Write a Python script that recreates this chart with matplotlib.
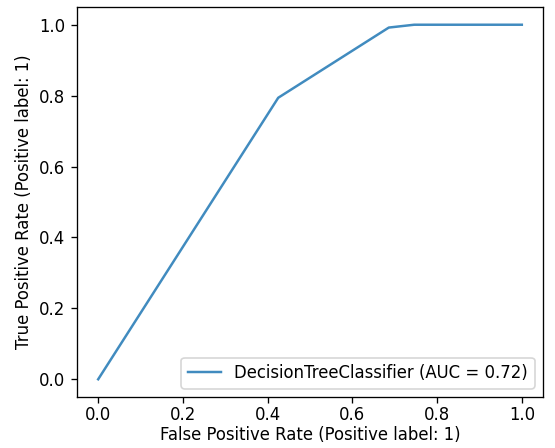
import matplotlib
matplotlib.use("Agg")
import matplotlib.pyplot as plt

fpr = [0.0, 0.425, 0.686, 0.746, 1.0]
tpr = [0.0, 0.794, 0.992, 1.0, 1.0]
label = "DecisionTreeClassifier (AUC = 0.72)"

DPI = 119
fig = plt.figure(figsize=(555/DPI, 448/DPI), dpi=DPI)
ax = fig.add_axes([77/555, 51/448, 466/555, 390/448])
ax.plot(fpr, tpr, color="#1f77b4", lw=1.5, alpha=0.85, label=label)
ax.set_xlabel("False Positive Rate (Positive label: 1)", fontsize=10, labelpad=1.5)
ax.set_ylabel("True Positive Rate (Positive label: 1)", fontsize=10)
ax.tick_params(labelsize=10)
ax.tick_params(axis="x", pad=1.8)
ax.legend(loc="lower right", fontsize=10)
fig.savefig("out.png", dpi=DPI)
